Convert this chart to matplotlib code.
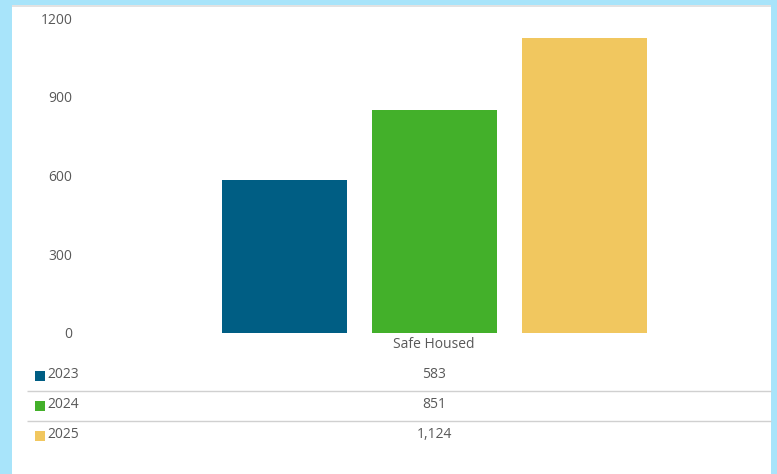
import matplotlib.pyplot as plt
from matplotlib.patches import Rectangle
from matplotlib.lines import Line2D

# data
category = 'Safe Housed'
years = ['2023', '2024', '2025']
values = [583, 851, 1124]
colors = ['#005E84', '#43B02A', '#F1C75F']
yticks = [0, 300, 600, 900, 1200]

W, H = 777, 474
plt.rcParams['font.family'] = ['Open Sans', 'DejaVu Sans']
txt = '#595959'

fig = plt.figure(figsize=(W / 100, H / 100), dpi=100)
fig.patch.set_facecolor('#A8E4FA')


def fx(px):
    return px / W


def fy(py):
    return (H - py) / H


# white panel with thin grey top line
fig.patches.append(Rectangle((fx(12), 0), fx(771) - fx(12), fy(5), transform=fig.transFigure,
                             facecolor='white', edgecolor='none', zorder=-1))
fig.lines.append(Line2D([fx(12), fx(771)], [fy(5.5), fy(5.5)], transform=fig.transFigure,
                        color='#DDDDDD', lw=1.2, solid_capstyle='butt'))

ax = fig.add_axes([fx(100), fy(333), fx(769) - fx(100), fy(18) - fy(333)])
ax.set_zorder(2)
ax.set_facecolor('none')
pos = [-1, 0, 1]
ax.bar(pos, values, width=125 / 150, color=colors)
ax.set_xlim(-334.5 / 150, 334.5 / 150)
ax.set_ylim(0, 1200)
ax.set_yticks(yticks)
ax.set_yticklabels([str(t) for t in yticks])
ax.set_xticks([])
ax.tick_params(axis='y', length=0, pad=20, labelsize=10, labelcolor=txt)
for s in ax.spines.values():
    s.set_visible(False)

# category label and data table
fig.text(fx(434), fy(345), category, ha='center', va='center', fontsize=10, color=txt)
row_y = [374, 404, 434]
for i, (yr, v, c) in enumerate(zip(years, values, colors)):
    y = row_y[i]
    fig.patches.append(Rectangle((fx(35), fy(y + 7)), fx(10), fy(0) - fy(10),
                                 transform=fig.transFigure, facecolor=c, edgecolor='none'))
    fig.text(fx(47), fy(y), yr, ha='left', va='center', fontsize=10, color=txt)
    fig.text(fx(434), fy(y), f'{v:,}', ha='center', va='center', fontsize=10, color=txt)
    if i < len(years) - 1:
        fig.lines.append(Line2D([fx(27), fx(771)], [fy(y + 17), fy(y + 17)],
                                transform=fig.transFigure, color='#D0D0D0', lw=1,
                                solid_capstyle='butt'))

fig.savefig('out.png', dpi=100, facecolor=fig.get_facecolor())
